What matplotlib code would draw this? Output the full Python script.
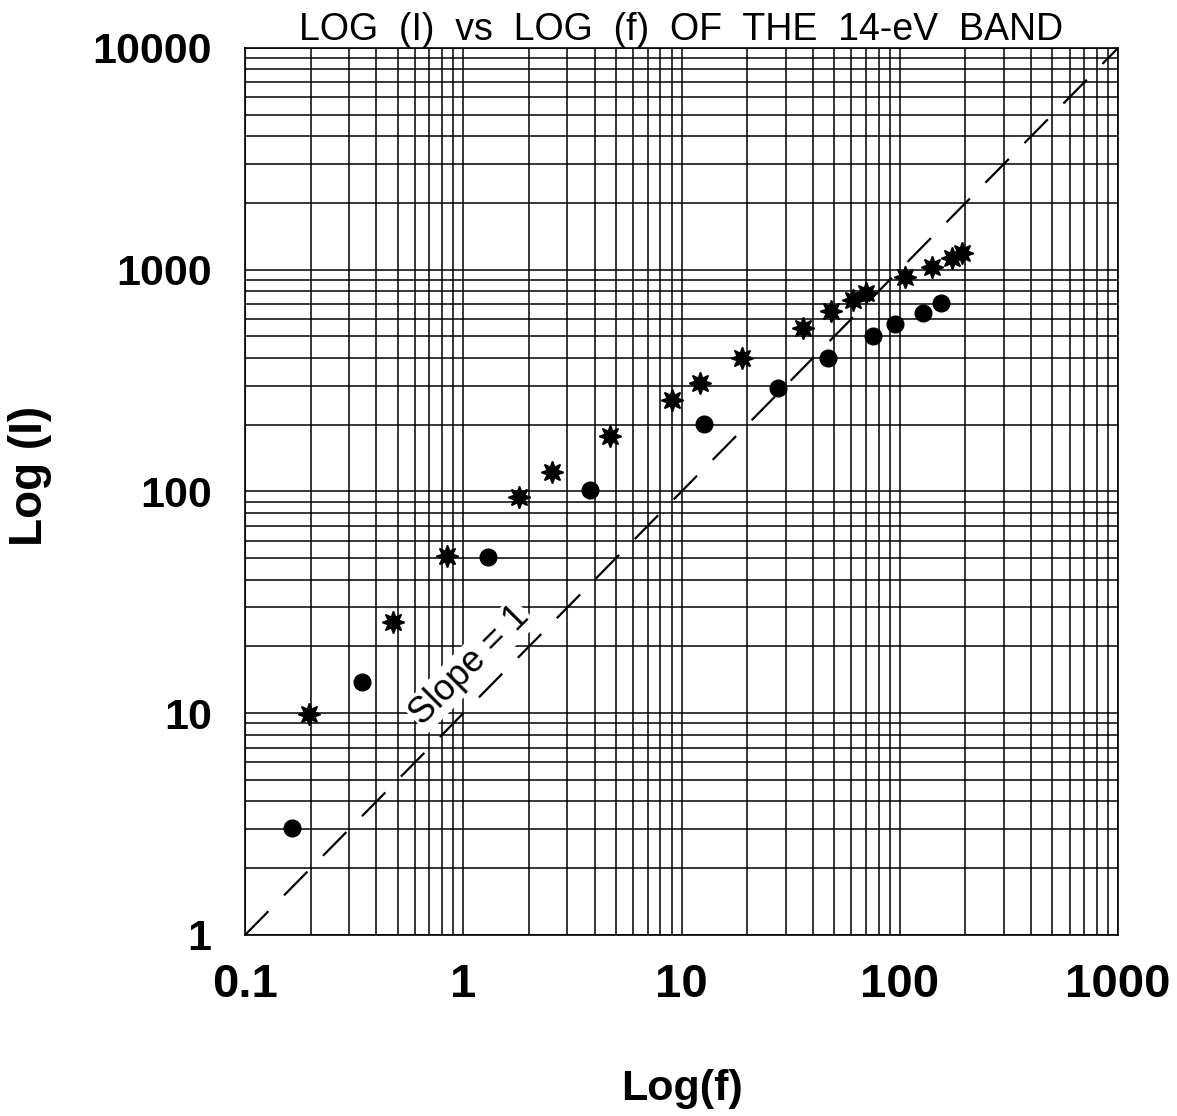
import numpy as np
import matplotlib
matplotlib.use("Agg")
import matplotlib.pyplot as plt

plt.rcParams['font.family'] = ['Liberation Sans', 'DejaVu Sans']

# asterisk series
star_f = [0.196, 0.476, 0.842, 1.80, 2.55, 4.70, 9.05, 12.2, 18.9, 36.1,
          48.4, 61.1, 70.0, 105.7, 140.6, 173, 193]
star_I = [9.9, 25.8, 51.2, 94.5, 122, 178, 258, 308, 400, 546,
          651, 731, 785, 927, 1029, 1130, 1190]

# filled circle series
circ_f = [0.164, 0.343, 1.30, 3.81, 12.7, 27.7, 46.9, 75.3, 95.1, 127.9, 154.6]
circ_I = [3.04, 13.8, 50.7, 101.6, 202, 293, 400, 503, 569, 638, 708]

# slope = 1 reference line
ref_f = [0.1, 1000]
ref_I = [1, 10000]

x_ticks = [0.1, 1, 10, 100, 1000]
x_labels = ["0.1", "1", "10", "100", "1000"]
y_ticks = [1, 10, 100, 1000, 10000]
y_labels = ["1", "10", "100", "1000", "10000"]

fig = plt.figure(figsize=(11.77, 11.16), dpi=100)
ax = fig.add_axes([0.2082, 0.1622, 0.7417, 0.7948])
ax.set_xscale("log")
ax.set_yscale("log")
ax.set_xlim(0.1, 1000)
ax.set_ylim(1, 10000)

ax.grid(True, which="both", color="black", linewidth=1.1)
ax.set_axisbelow(True)
ax.tick_params(which="both", length=0)

ax.plot(ref_f, ref_I, color="black", linewidth=1.6, dashes=(15, 10), zorder=2)

ax.plot(star_f, star_I, linestyle="none", marker=(8, 1, 0), markersize=16,
        color="black", markeredgewidth=1.2, zorder=3)
ax.plot(circ_f, circ_I, linestyle="none", marker="o", markersize=12,
        color="black", zorder=3)

ax.text(1.07, 16.5, "Slope = 1", rotation=45, fontsize=26,
        ha="center", va="center", rotation_mode="anchor",
        bbox=dict(facecolor="white", edgecolor="none", pad=1), zorder=4)

ax.set_xticks(x_ticks)
ax.set_xticklabels(x_labels, fontsize=34, fontweight="bold")
ax.set_yticks(y_ticks)
ax.set_yticklabels(y_labels, fontsize=31, fontweight="bold")
ax.tick_params(axis="x", pad=20)
ax.tick_params(axis="y", pad=24)

ax.set_title("LOG  (I)  vs  LOG  (f)  OF  THE  14-eV  BAND", fontsize=27, pad=5)
ax.set_xlabel("Log(f)", fontsize=31, fontweight="bold")
ax.set_ylabel("Log (I)", fontsize=33, fontweight="bold")
ax.xaxis.set_label_coords(0.5, -0.151)
ax.yaxis.set_label_coords(-0.221, 0.517)

for s in ax.spines.values():
    s.set_linewidth(1.2)

fig.savefig("out.png", dpi=100)
